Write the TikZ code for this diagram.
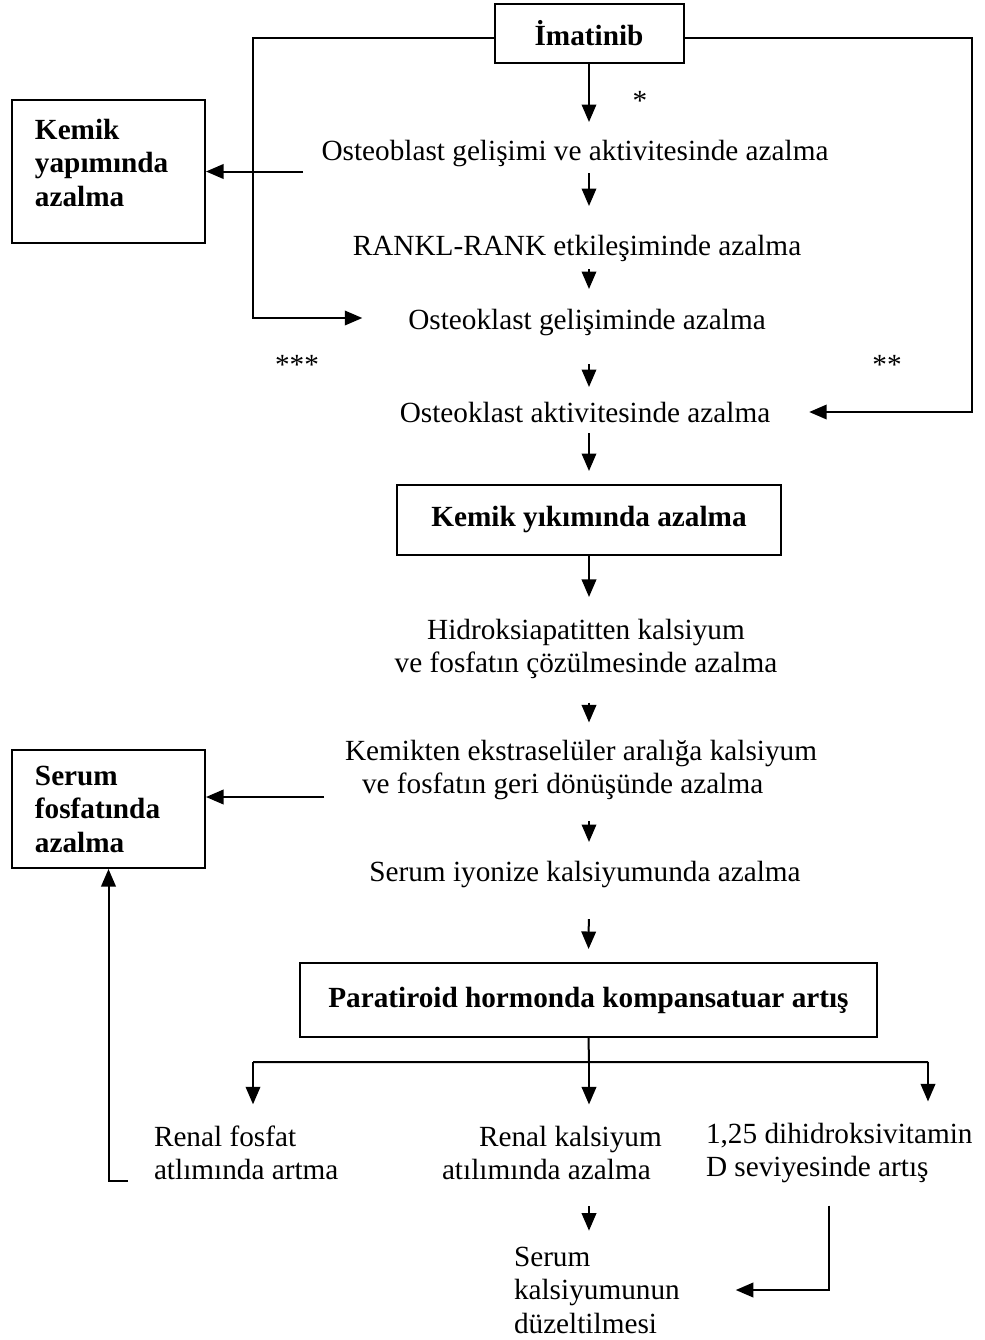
\documentclass[tikz,border=0pt]{standalone}
\usepackage{fontspec}
\setmainfont{Liberation Serif}
\usetikzlibrary{arrows.meta}

\begin{document}
\begin{tikzpicture}[x=0.4pt, y=-0.4pt, line width=0.8pt,
  every node/.style={font=\fontsize{11.7}{13.4}\selectfont, inner sep=0pt},
  txt/.style={text height=8.2pt, text depth=2.6pt},
  box/.style={draw, font=\fontsize{11.7}{13.4}\selectfont\bfseries},
  sidebox/.style={box, text width=58.8pt, inner xsep=9.2pt, align=left},
  arr/.style={-{Triangle[length=7pt, width=5.8pt]}}]
  \useasboundingbox (0,0) rectangle (985,1340);

  \node[box, minimum width=75.6pt, minimum height=23.6pt] (imatinib) at (589,33) {İmatinib};
  \node[sidebox, minimum height=57.2pt] (kemik) at (108.5,171.5) {Kemik\\yapımında\\azalma\\[-6.2pt]\mbox{}};
  \node[txt] (osteob) at (575,153) {Osteoblast gelişimi ve aktivitesinde azalma};
  \node[txt] (rankl) at (577,248) {RANKL-RANK etkileşiminde azalma};
  \node[txt] (oklgel) at (587,322) {Osteoklast gelişiminde azalma};
  \node[txt] (oklakt) at (585,415) {Osteoklast aktivitesinde azalma};
  \node (s1) at (640,101) {*};
  \node (s3) at (297,365) {***};
  \node (s2) at (887,365) {**};
  \node[box, minimum width=153.6pt, minimum height=28pt] (yikim) at (589,520) {Kemik yıkımında azalma};
  \node[align=center] (hidro) at (586,649) {Hidroksiapatitten kalsiyum\\ve fosfatın çözülmesinde azalma};
  \node[align=left] (donus) at (581,770) {Kemikten ekstraselüler aralığa kalsiyum\\\hspace*{6.8pt}ve fosfatın geri dönüşünde azalma};
  \node[sidebox, minimum height=47.2pt] (fosfat) at (108.5,809) {Serum\\fosfatında\\azalma};
  \node[txt] (iyon) at (585,874) {Serum iyonize kalsiyumunda azalma};
  \node[box, minimum width=230.8pt, minimum height=29.6pt] (pth) at (588.5,1000) {Paratiroid hormonda kompansatuar artış};
  \node[align=left, anchor=west] (renalp) at (153,1153) {Renal fosfat\\atlımında artma};
  \node[align=left, anchor=west] (renalca) at (441,1153) {\hspace*{14.8pt}Renal kalsiyum\\atılımında azalma};
  \node[align=left, anchor=west] (vitd) at (705,1153) {1,25 dihidroksivitamin\\D seviyesinde artış};
  \node[align=left, anchor=west] (duzelt) at (513,1290) {Serum\\kalsiyumunun\\düzeltilmesi};

  \coordinate (lbend) at (253,318);
  \coordinate (rbend) at (972,412);
  \coordinate (split) at (589,1062);
  \coordinate (lsplit) at (253,1062);
  \coordinate (rsplit) at (928,1062);

  \draw[arr, shorten >=18pt] ([yshift=-2pt]imatinib.west) -| (lbend) -- (lbend -| oklgel.west);
  \draw[arr, shorten >=15.2pt] ([yshift=-2pt]imatinib.east) -| (rbend) -- (rbend -| oklakt.east);
  \draw[arr, shorten >=6.6pt] (imatinib.south) -- (imatinib.south |- osteob.north);
  \draw[arr, shorten <=7pt] (kemik.east -| osteob.west) -- (kemik.east);
  \draw[arr, shorten <=2.2pt, shorten >=11pt] (imatinib.south |- osteob.south) -- (imatinib.south |- rankl.north);
  \draw[arr, shorten <=2.6pt, shorten >=7.4pt] (imatinib.south |- rankl.south) -- (imatinib.south |- oklgel.north);
  \draw[arr, shorten <=11pt, shorten >=5.4pt] (imatinib.south |- oklgel.south) -- (imatinib.south |- oklakt.north);
  \draw[arr, shorten <=1.4pt, shorten >=5.2pt] (imatinib.south |- oklakt.south) -- (yikim.north);
  \draw[arr, shorten >=8.4pt] (yikim.south) -- (yikim.south |- hidro.north);
  \draw[arr, shorten <=9pt, shorten >=6.6pt] (yikim.south |- hidro.south) -- (yikim.south |- donus.north);
  \draw[arr, shorten <=8pt] ([yshift=4.8pt]fosfat.east -| donus.west) -- ([yshift=4.8pt]fosfat.east);
  \draw[arr, shorten <=8pt, shorten >=7pt] (yikim.south |- donus.south) -- (yikim.south |- iyon.north);
  \draw[arr, shorten <=12.2pt, shorten >=5.2pt] (yikim.south |- iyon.south) -- (pth.north);
  \draw (pth.south) -- (split) (lsplit) -- (rsplit);
  \draw[arr, shorten >=8.2pt] (split) -- (split |- renalca.north);
  \draw[arr, shorten >=8.2pt] (lsplit) -- (lsplit |- renalp.north);
  \draw[arr, shorten >=8.2pt] (rsplit) -- (rsplit |- vitd.north);
  \draw[arr] ([xshift=-10pt]renalp.south west) -| (fosfat.south);
  \draw[arr, shorten <=10pt, shorten >=6pt] (split |- renalca.south) -- (split |- duzelt.north);
  \draw[arr, shorten <=8.6pt, shorten >=22pt] ([xshift=-4pt]vitd.south) |- (duzelt.east);
\end{tikzpicture}
\end{document}
